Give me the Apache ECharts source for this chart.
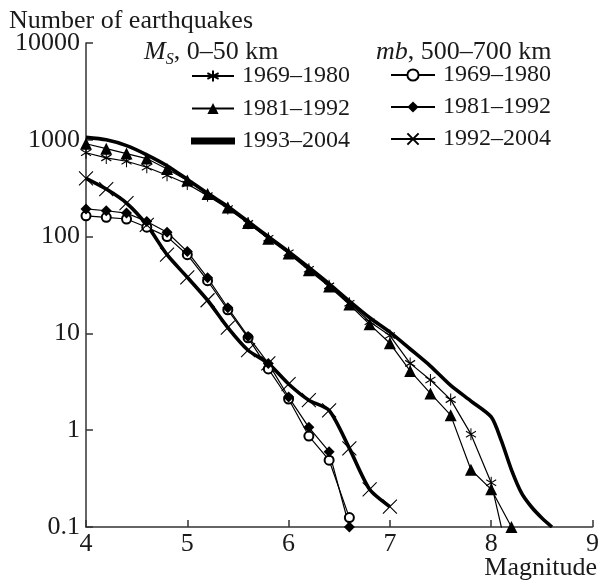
<!DOCTYPE html>
<html><head><meta charset="utf-8">
<script src="https://cdn.jsdelivr.net/npm/echarts@6/dist/echarts.min.js"></script>
<style>html,body{margin:0;padding:0;background:#fff}#c{width:602px;height:587px}</style>
</head><body><div id="c"></div>
<script>
// ---- data (magnitude, number of earthquakes) ----
const magShallow = [4.0,4.2,4.4,4.6,4.8,5.0,5.2,5.4,5.6,5.8,6.0,6.2,6.4,6.6,6.8,7.0,7.2,7.4,7.6,7.8,8.0,8.2];
const msN1969 = [735,650,600,520,430,350,265,195,137,96,68,46,31,20.5,13.2,9.5,4.9,3.3,2.07,0.91,0.286,0.035];
const msN1981 = [910,810,720,640,500,380,275,200,138,95,67,45,30.5,19.9,12.4,7.9,4.1,2.4,1.43,0.39,0.245,0.1];
const magMs1993 = [4.0,4.2,4.4,4.6,4.8,5.0,5.2,5.4,5.6,5.8,6.0,6.2,6.4,6.6,6.8,7.0,7.2,7.4,7.6,7.8,8.0,8.1,8.2,8.3,8.4,8.5,8.6];
const msN1993 = [1060,1000,870,700,540,390,280,205,143,100,70,48,32.5,21.5,14.5,10.3,6.9,4.6,2.9,2.0,1.37,0.78,0.39,0.224,0.16,0.124,0.1];
const magDeep = [4.0,4.2,4.4,4.6,4.8,5.0,5.2,5.4,5.6,5.8,6.0,6.2,6.4,6.6];
const mbN1969 = [164,158,152,125,100,65,35,17.5,9.0,4.3,2.1,0.87,0.49,0.125];
const mbN1981 = [193,185,175,143,111,70,37.5,18.4,9.3,4.9,2.2,1.07,0.6,0.1];
const magDeep1992 = [4.0,4.2,4.4,4.6,4.8,5.0,5.2,5.4,5.6,5.8,6.0,6.2,6.4,6.6,6.8,7.0];
const mbN1992 = [400,310,222,132,65,38,22,11.5,6.7,4.9,3.0,2.04,1.6,0.65,0.245,0.162];
const xTicks = [4,5,6,7,8,9];
const yTicks = [0.1,1,10,100,1000,10000];

const FONT = "'Liberation Serif','DejaVu Serif',serif";
const INK = '#1a1a1a';
const pairs = (xs, ys) => xs.map((x, i) => [x, ys[i]]);

const ASTER = 'path://M0,-6L0,6M-5.2,-3L5.2,3M-5.2,3L5.2,-3';
const CROSS = 'path://M-6,-6L6,6M-6,6L6,-6';
const BAR = 'path://M0,0L42,0L42,5L0,5Z';

function thin(name, xs, ys, symbol, size, fillSym) {
  return {
    name, type: 'line', data: pairs(xs, ys), symbol, symbolSize: size,
    showAllSymbol: true, clip: true, silent: true,
    lineStyle: { color: '#000', width: 1.2 },
    itemStyle: { color: '#000', borderColor: '#000', borderWidth: fillSym ? 0 : 1.1 },
    emphasis: { disabled: true }
  };
}
function thick(name, xs, ys, symbol, size) {
  return {
    name, type: 'line', data: pairs(xs, ys), symbol, symbolSize: size,
    showAllSymbol: true, clip: true, silent: true, smooth: 0.25,
    lineStyle: { color: '#000', width: 3.6 },
    itemStyle: { color: '#000', borderColor: '#000', borderWidth: 1.1 },
    emphasis: { disabled: true }
  };
}

const legendText = { fontFamily: FONT, fontSize: 24, color: INK, lineHeight: 20, padding: [0, 0, 0, 3] };

const option = {
  animation: false,
  backgroundColor: '#fff',
  grid: { left: 86, right: 6, top: 43, bottom: 60 },
  xAxis: {
    type: 'value', min: 4, max: 9, interval: 1,
    axisLine: { show: true, lineStyle: { color: '#333', width: 1.5 } },
    axisTick: { show: true, inside: true, length: 7, lineStyle: { color: '#333', width: 1.5 } },
    axisLabel: { fontFamily: FONT, fontSize: 26, color: INK, margin: 4, customValues: xTicks },
    splitLine: { show: false }
  },
  yAxis: {
    type: 'log', logBase: 10, min: 0.1, max: 10000,
    axisLine: { show: true, lineStyle: { color: '#333', width: 1.5 } },
    axisTick: { show: true, inside: true, length: 7, lineStyle: { color: '#333', width: 1.5 } },
    minorTick: { show: false },
    axisLabel: { fontFamily: FONT, fontSize: 26, color: INK, margin: 6,
      formatter: v => { const t = yTicks.find(k => Math.abs(Math.log10(k) - Math.log10(v)) < 1e-6); return t === undefined ? '' : String(t); } },
    splitLine: { show: false }
  },
  legend: [
    { data: ['MS|1969–1980', 'MS|1981–1992', { name: 'MS|1993–2004', icon: BAR }], orient: 'vertical', left: 186, top: 59,
      itemWidth: 42, itemHeight: 14, itemGap: 8.5, selectedMode: false, formatter: n => n.split('|')[1], textStyle: legendText },
    { data: ['mb|1969–1980', 'mb|1981–1992', 'mb|1992–2004'], orient: 'vertical', left: 385, top: 58,
      itemWidth: 44, itemHeight: 14, itemGap: 8, selectedMode: false, formatter: n => n.split('|')[1], textStyle: legendText }
  ],
  graphic: [
    { type: 'text', left: 9, top: 8, silent: true,
      style: { text: 'Number of earthquakes', fontFamily: FONT, fontSize: 26, fill: INK } },
    { type: 'text', left: 144, top: 39, silent: true,
      style: { text: '{i|M}{s|S}{n|, 0–50 km}', fontFamily: FONT, fontSize: 26, fill: INK,
        rich: { i: { fontStyle: 'italic', fontFamily: FONT, fontSize: 26, lineHeight: 31 },
                s: { fontStyle: 'italic', fontFamily: FONT, fontSize: 16, lineHeight: 31, verticalAlign: 'bottom' },
                n: { fontFamily: FONT, fontSize: 26, lineHeight: 31 } } } },
    { type: 'text', left: 376, top: 39, silent: true,
      style: { text: '{i|mb}{n|, 500–700 km}', fontFamily: FONT, fontSize: 26, fill: INK,
        rich: { i: { fontStyle: 'italic', fontFamily: FONT, fontSize: 26, lineHeight: 31 },
                n: { fontFamily: FONT, fontSize: 26, lineHeight: 31 } } } },
    { type: 'text', right: 5, top: 555, silent: true,
      style: { text: 'Magnitude', fontFamily: FONT, fontSize: 26, fill: INK } }
  ],
  series: [
    thin('MS|1969–1980', magShallow, msN1969, ASTER, [10, 12], false),
    thin('MS|1981–1992', magShallow, msN1981, 'triangle', 12, true),
    thick('MS|1993–2004', magMs1993, msN1993, 'none', 0),
    thin('mb|1969–1980', magDeep, mbN1969, 'emptyCircle', 9, false),
    thin('mb|1981–1992', magDeep, mbN1981, 'diamond', 11, true),
    thick('mb|1992–2004', magDeep1992, mbN1992, CROSS, 14)
  ]
};
const chart = echarts.init(document.getElementById('c'));
chart.setOption(option);
</script>
</body></html>
